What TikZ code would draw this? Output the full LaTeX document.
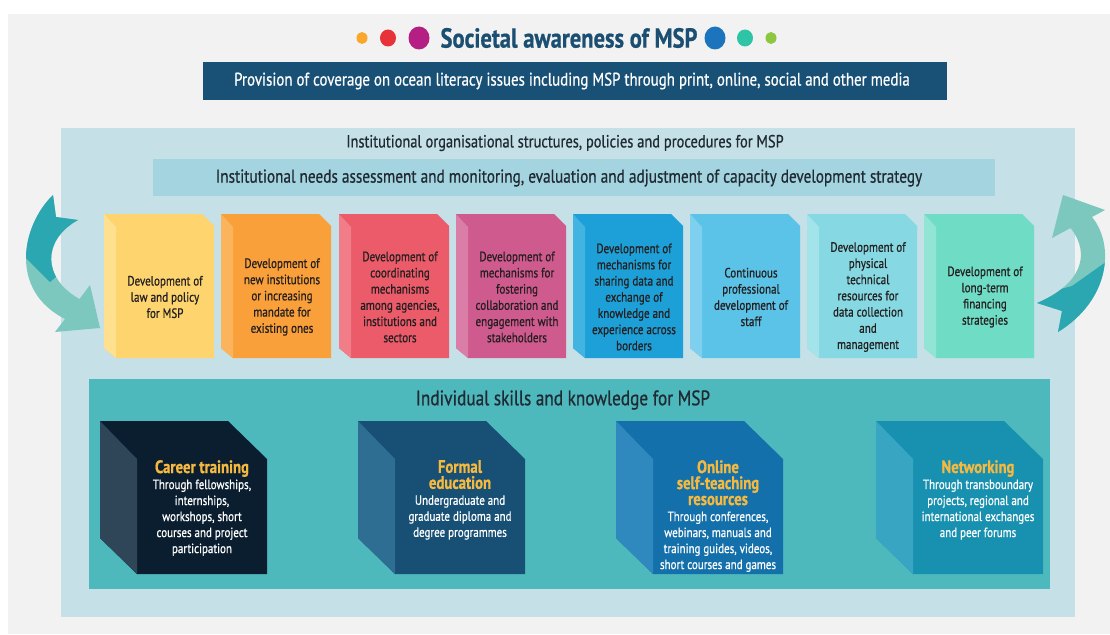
\documentclass[tikz,border=0pt]{standalone}
\usepackage{fontspec}
\setmainfont{PT Sans}[FakeStretch=0.82, FakeBold=0.7]
\definecolor{pagegrey}{HTML}{F2F2F2}
\definecolor{titleblue}{HTML}{1B4F72}
\definecolor{bannerblue}{HTML}{195176}
\definecolor{instpanel}{HTML}{C5E0E6}
\definecolor{instband}{HTML}{A4D4DF}
\definecolor{skillpanel}{HTML}{4EB9BD}
\definecolor{darktext}{HTML}{1F2A33}
\definecolor{boxtextc}{HTML}{231F20}
\definecolor{cubetitle}{HTML}{F5B940}
\definecolor{arrowdark}{HTML}{2AA7B0}
\definecolor{arrowlight}{HTML}{7CC8BE}
% dots
\definecolor{dotorange}{HTML}{F9A82B}
\definecolor{dotred}{HTML}{E8323A}
\definecolor{dotmagenta}{HTML}{B51F84}
\definecolor{dotblue}{HTML}{1C75BC}
\definecolor{dotteal}{HTML}{2EC4A6}
\definecolor{dotgreen}{HTML}{8DC63F}
% institutional boxes (front / side)
\definecolor{bAf}{HTML}{FDD46E}\definecolor{bAs}{HTML}{FEE08F}
\definecolor{bBf}{HTML}{F9A03A}\definecolor{bBs}{HTML}{FBB35C}
\definecolor{bCf}{HTML}{EB5B69}\definecolor{bCs}{HTML}{F07D88}
\definecolor{bDf}{HTML}{CF5A8E}\definecolor{bDs}{HTML}{DA7EA8}
\definecolor{bEf}{HTML}{1DA0D7}\definecolor{bEs}{HTML}{42B4E2}
\definecolor{bFf}{HTML}{5BC3E8}\definecolor{bFs}{HTML}{7ED0EE}
\definecolor{bGf}{HTML}{86D8E2}\definecolor{bGs}{HTML}{A3E3EA}
\definecolor{bHf}{HTML}{6FDCC6}\definecolor{bHs}{HTML}{92E5D4}
% skill cubes (front / side)
\definecolor{cAf}{HTML}{0B1E30}\definecolor{cAs}{HTML}{2F4658}
\definecolor{cBf}{HTML}{174F75}\definecolor{cBs}{HTML}{2F6E93}
\definecolor{cCf}{HTML}{1470AA}\definecolor{cCs}{HTML}{3089BE}
\definecolor{cDf}{HTML}{1891B0}\definecolor{cDs}{HTML}{38A5C2}

\tikzset{
  boxtext/.style={align=center, text=boxtextc, inner sep=0pt,
    font=\fontsize{13.5}{16.2}\selectfont},
  cubetext/.style={align=center, text=white, inner sep=0pt, anchor=north,
    font=\fontsize{13.4}{16}\selectfont},
  headline/.style={text=darktext, inner sep=0pt, font=\fontsize{17.6}{20}\selectfont},
}

% one bold title line inside a skill cube
\newcommand\cubehead[1]{{\bfseries\fontsize{18}{17.5}\selectfont\color{cubetitle}#1}}

% institutional box: name, left x, front colour, side colour, text
\newcommand\instbox[5]{%
  \fill[#3] (#2,214) -- ({#2+98},214) -- ({#2+110},226) -- ({#2+110},358)
     -- ({#2+12},358) -- (#2,348) -- cycle;
  \fill[#4] (#2,214) -- ({#2+12},227) -- ({#2+12},358) -- (#2,348) -- cycle;
  \node[boxtext] (#1) at ({#2+61},297) {#5};
}
% skill cube: name, left x, front colour, side colour, text
\newcommand\skillcube[5]{%
  \fill[#3] (#2,421) -- ({#2+128},421) -- ({#2+167},459) -- ({#2+167},574)
     -- ({#2+37},574) -- (#2,538) -- cycle;
  \fill[#4] (#2,421) -- ({#2+37},459) -- ({#2+37},574) -- (#2,538) -- cycle;
  \node[cubetext] (#1) at ({#2+102},460) {#5};
}

\begin{document}
\begin{tikzpicture}[x=1pt,y=-1pt]
\useasboundingbox (0,0) rectangle (1110,634);
\fill[white] (0,0) rectangle (1110,634);
\fill[pagegrey] (8,14) rectangle (1110,634);

% headline with coloured dots
\node[text=titleblue, inner sep=0pt, font=\bfseries\fontsize{27.5}{30}\selectfont]
  (societal) at (569,38) {Societal awareness of MSP};
\fill[dotorange]  (362,38) circle[x radius=5.5, y radius=6];
\fill[dotred]     (388,38) circle[x radius=8, y radius=8.5];
\fill[dotmagenta] (419,38) circle[x radius=10.5, y radius=11.5];
\fill[dotblue]    (715,38) circle[x radius=10.5, y radius=11.5];
\fill[dotteal]    (745,38) circle[x radius=8, y radius=8.5];
\fill[dotgreen]   (771,38) circle[x radius=5.5, y radius=6];

\fill[bannerblue] (203,62) rectangle (947,100);
\node[text=white, inner sep=0pt, font=\fontsize{18.2}{20}\selectfont] (coverage) at (572,81)
  {Provision of coverage on ocean literacy issues including MSP through print, online, social and other media};

% institutional level
\fill[instpanel] (61,128) rectangle (1075,617);
\node[headline] (instlevel) at (565,143)
  {Institutional organisational structures, policies and procedures for MSP};
\fill[instband] (153,159) rectangle (995,196);
\node[headline, font=\fontsize{18.6}{21}\selectfont] (needs) at (569,178)
  {Institutional needs assessment and monitoring, evaluation and adjustment of capacity development strategy};

\instbox{law}{104}{bAf}{bAs}{Development of\\law and policy\\for MSP}
\instbox{inst}{221}{bBf}{bBs}{Development of\\new institutions\\or increasing\\mandate for\\existing ones}
\instbox{coord}{339}{bCf}{bCs}{Development of\\coordinating\\mechanisms\\among agencies,\\institutions and\\sectors}
\instbox{collab}{456}{bDf}{bDs}{Development of\\mechanisms for\\fostering\\collaboration and\\engagement with\\stakeholders}
\instbox{share}{573}{bEf}{bEs}{Development of\\mechanisms for\\sharing data and\\exchange of\\knowledge and\\experience across\\borders}
\instbox{staff}{690}{bFf}{bFs}{Continuous\\professional\\development of\\staff}
\instbox{phys}{807}{bGf}{bGs}{Development of\\physical\\technical\\resources for\\data collection\\and\\management}
\instbox{fin}{924}{bHf}{bHs}{Development of\\long-term\\financing\\strategies}

% cycle arrow on the left
\begin{scope}
  \clip (53,195) .. controls (22,225) and (8,290) .. (65,319) -- (55,332)
     -- (100,328) -- (90,285) -- (79.5,299) .. controls (42,278) and (42,240) .. (78,220)
     -- (56,217) -- cycle;
  \fill[arrowlight] (0,180) rectangle (120,345);
  \fill[arrowdark] (0,150) -- (115,150) -- (115,228) -- (50,282) -- (0,232) -- cycle;
\end{scope}
% cycle arrow on the right
\begin{scope}
  \clip (1092,217) .. controls (1115,245) and (1110,300) .. (1058,332)
     -- (1062,311) -- (1037,303) .. controls (1080,285) and (1092,255) .. (1070.5,228)
     -- (1052,238) -- (1063,195) -- (1105,210) -- cycle;
  \fill[arrowlight] (1020,180) rectangle (1120,345);
  \fill[arrowdark] (1120,252) -- (1120,350) -- (1020,350) -- (1020,300) -- (1072,286) -- cycle;
\end{scope}

% individual level
\fill[skillpanel] (89,379) rectangle (1050,589);
\node[headline, font=\fontsize{21}{23}\selectfont] (indlevel) at (563,400)
  {Individual skills and knowledge for MSP};

\skillcube{career}{100}{cAf}{cAs}{\cubehead{Career training}\\Through fellowships,\\internships,\\workshops, short\\courses and project\\participation}
\skillcube{formal}{358}{cBf}{cBs}{\cubehead{Formal}\\\cubehead{education}\\Undergraduate and\\graduate diploma and\\degree programmes}
\skillcube{online}{616}{cCf}{cCs}{\cubehead{Online}\\\cubehead{self-teaching}\\\cubehead{resources}\\Through conferences,\\webinars, manuals and\\training guides, videos,\\short courses and games}
\skillcube{network}{876}{cDf}{cDs}{\cubehead{Networking}\\Through transboundary\\projects, regional and\\international exchanges\\and peer forums}
\end{tikzpicture}
\end{document}
